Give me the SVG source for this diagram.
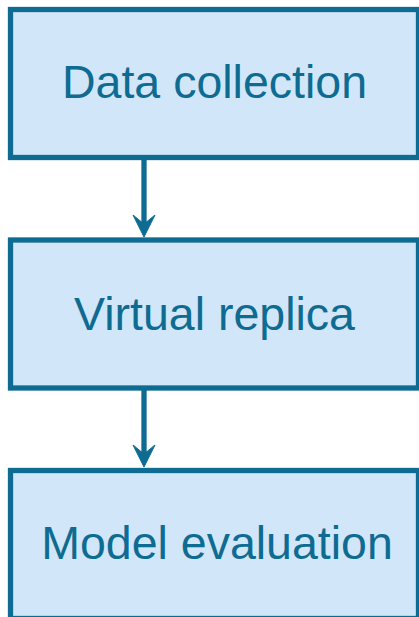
<svg xmlns="http://www.w3.org/2000/svg" width="419" height="617" viewBox="0 0 419 617">
  <style>
    .box { fill: #d1e6f9; stroke: #0e6b91; stroke-width: 5.3; }
    .label { font-family: "Liberation Sans", Arial, sans-serif; font-size: 46.5px; fill: #0e6b91; text-anchor: middle; }
    .edge { stroke: #0e6b91; stroke-width: 5.3; fill: none; }
    .head { fill: #0e6b91; stroke: #0e6b91; stroke-width: 1; stroke-linejoin: miter; }
  </style>
  <rect width="419" height="617" fill="#ffffff"/>
  <g id="connectors">
    <path class="edge" d="M144 160 L144 228"/>
    <path class="head" d="M144 237 L133 215 L144 224 L155 215 Z"/>
    <path class="edge" d="M144 390 L144 458"/>
    <path class="head" d="M144 467 L133 445 L144 454 L155 445 Z"/>
  </g>
  <g id="data-collection">
    <rect class="box" x="10.5" y="9.5" width="408" height="148"/>
    <text class="label" x="214.5" y="98">Data collection</text>
  </g>
  <g id="virtual-replica">
    <rect class="box" x="10.5" y="240" width="408" height="148"/>
    <text class="label" x="214.5" y="330">Virtual replica</text>
  </g>
  <g id="model-evaluation">
    <rect class="box" x="10.5" y="470.5" width="408" height="148"/>
    <text class="label" x="217" y="559">Model evaluation</text>
  </g>
</svg>
